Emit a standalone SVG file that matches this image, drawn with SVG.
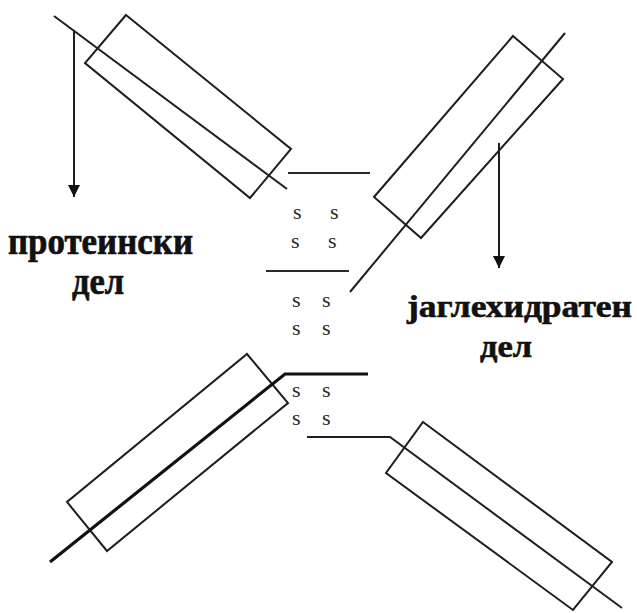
<svg xmlns="http://www.w3.org/2000/svg" width="637" height="613" viewBox="0 0 637 613">
  <style>
    .box { fill: none; stroke: #1e1e1e; stroke-width: 2; stroke-linejoin: miter; }
    .ln { fill: none; stroke: #1e1e1e; stroke-width: 2; }
    .bar { fill: none; stroke: #2a2a2a; stroke-width: 2.2; }
    .thick { fill: none; stroke: #111; stroke-width: 3.2; }
    .s { font-family: "Liberation Serif", "DejaVu Serif", serif; font-size: 22px; fill: #2a2a2a; }
    .lbl { font-family: "Liberation Serif", "DejaVu Serif", serif; font-weight: bold; font-size: 32px; fill: #111; stroke: #111; stroke-width: 0.6; }
  </style>
  <defs>
    <marker id="arrow" markerWidth="12" markerHeight="12" refX="10" refY="5" orient="auto" markerUnits="userSpaceOnUse" viewBox="0 0 10 10">
      <path d="M0,0 L10,5 L0,10 Z" fill="#111"/>
    </marker>
  </defs>
  <rect width="637" height="613" fill="#fff"/>

  <!-- upper left chain -->
  <g id="chain-upper-left">
    <polygon class="box" points="126,15 291,149 250,198 85,63"/>
    <line class="ln" x1="54" y1="16" x2="287" y2="189"/>
  </g>

  <!-- upper right chain -->
  <g id="chain-upper-right">
    <polygon class="box" points="513,36 563,79 421,238 374,197"/>
    <line class="ln" x1="565" y1="33" x2="350" y2="292"/>
  </g>

  <!-- lower left chain -->
  <g id="chain-lower-left">
    <polygon class="box" points="247,354 288,403 107,551 67,502"/>
    <polyline class="thick" points="50,562 285,374 368,374"/>
  </g>

  <!-- lower right chain -->
  <g id="chain-lower-right">
    <polygon class="box" points="423,422 612,562 573,610 386,473"/>
    <polyline class="ln" points="307,437 390,437 622,608"/>
  </g>

  <!-- disulfide bridges -->
  <g id="bridges">
    <line class="bar" x1="288" y1="173" x2="370" y2="173"/>
    <line class="bar" x1="266" y1="271" x2="349" y2="271"/>
    <text class="s" x="293" y="219">s</text>
    <text class="s" x="330" y="219">s</text>
    <text class="s" x="291" y="248">s</text>
    <text class="s" x="328" y="248">s</text>
    <text class="s" x="292" y="307">s</text>
    <text class="s" x="322" y="307">s</text>
    <text class="s" x="292" y="335">s</text>
    <text class="s" x="322" y="335">s</text>
    <text class="s" x="292" y="397">s</text>
    <text class="s" x="322" y="397">s</text>
    <text class="s" x="292" y="425">s</text>
    <text class="s" x="322" y="425">s</text>
  </g>

  <!-- labels (left pair in a taller cut) -->
  <g id="label-protein">
    <text class="lbl" transform="translate(8,254) scale(1,1.2)" textLength="185" lengthAdjust="spacingAndGlyphs">протеински</text>
    <text class="lbl" transform="translate(72,294) scale(1,1.2)" textLength="52" lengthAdjust="spacingAndGlyphs">дел</text>
  </g>
  <g id="label-carbohydrate">
    <text class="lbl" x="407" y="317" textLength="225" lengthAdjust="spacingAndGlyphs">јаглехидратен</text>
    <text class="lbl" x="480" y="357" textLength="52" lengthAdjust="spacingAndGlyphs">дел</text>
  </g>

  <!-- pointer arrows -->
  <g id="connectors">
    <line class="ln" x1="74" y1="30" x2="74" y2="197" marker-end="url(#arrow)"/>
    <line class="ln" x1="499" y1="143" x2="499" y2="268" marker-end="url(#arrow)"/>
  </g>
</svg>
